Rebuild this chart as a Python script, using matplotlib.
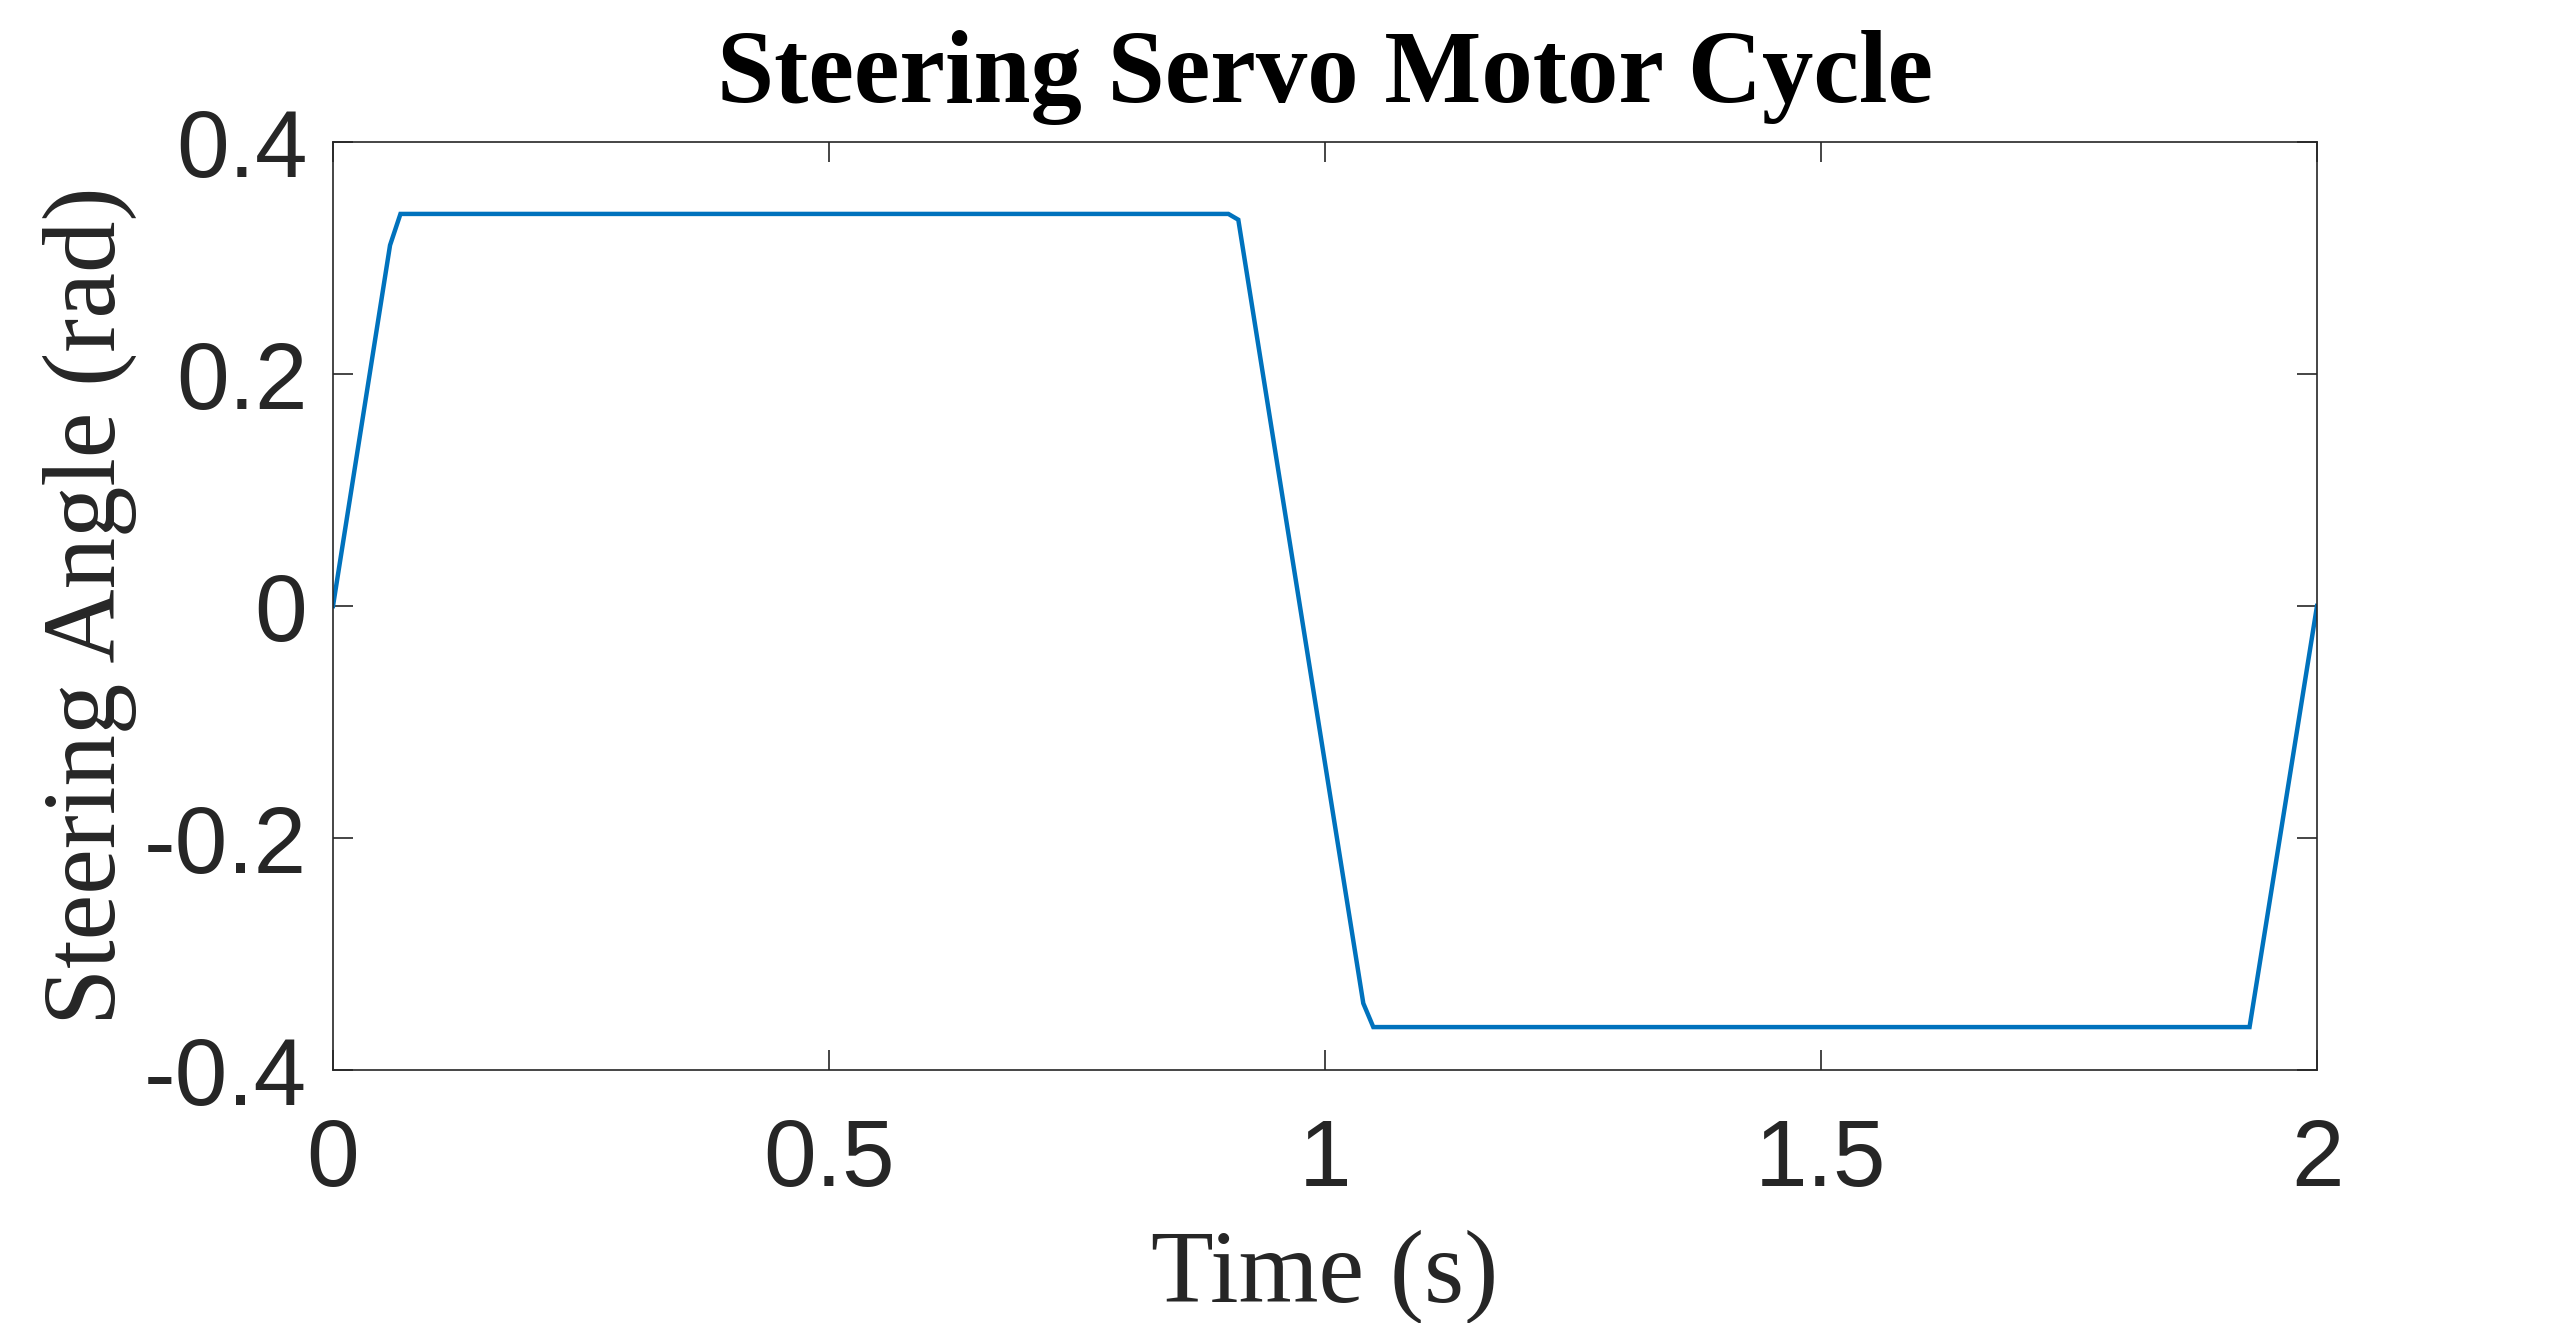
import matplotlib
matplotlib.use("Agg")
import matplotlib.pyplot as plt

# Data
time_s = [0.0, 0.0575, 0.068, 0.9026, 0.9126, 1.0386, 1.0487, 1.932, 2.0]
angle_rad = [0.0, 0.311, 0.338, 0.338, 0.333, -0.3425, -0.363, -0.363, 0.0]
x_ticks = [0, 0.5, 1, 1.5, 2]
x_tick_labels = ["0", "0.5", "1", "1.5", "2"]
y_ticks = [-0.4, -0.2, 0, 0.2, 0.4]
y_tick_labels = ["-0.4", "-0.2", "0", "0.2", "0.4"]

dark = "#262626"
fig = plt.figure(figsize=(25.6, 13.23), dpi=100)
ax = fig.add_axes([333 / 2560, (1323 - 1070) / 1323, 1984 / 2560, 928 / 1323])

ax.plot(time_s, angle_rad, color="#0072BD", linewidth=3.2, solid_joinstyle="miter")

ax.set_xlim(0, 2)
ax.set_ylim(-0.4, 0.4)
ax.set_xticks(x_ticks)
ax.set_xticklabels(x_tick_labels)
ax.set_yticks(y_ticks)
ax.set_yticklabels(y_tick_labels)

for sp in ax.spines.values():
    sp.set_color(dark)
    sp.set_linewidth(1.2)

ax.tick_params(axis="both", which="both", direction="in", length=14.4, width=1.2,
               color=dark, labelcolor=dark, top=True, right=True,
               labelsize=68)
ax.tick_params(axis="x", pad=34)
ax.tick_params(axis="y", pad=18.5)
for lab in ax.get_xticklabels() + ax.get_yticklabels():
    lab.set_family(["Liberation Sans", "DejaVu Sans"])

ax.set_xlabel("Time (s)", family=["Liberation Serif", "DejaVu Serif"], fontsize=74,
              color=dark, va="baseline")
ax.xaxis.set_label_coords(0.5, (1070 - 1302) / 928)
ax.set_ylabel("Steering Angle (rad)", family=["Liberation Serif", "DejaVu Serif"],
              fontsize=74, color=dark, va="baseline")
ax.yaxis.set_label_coords((115 - 333) / 1984, 0.5)

ax.set_title("Steering Servo Motor Cycle", family=["Liberation Serif", "DejaVu Serif"],
             fontweight="bold", fontsize=74, color="black", va="baseline",
             y=1 + (142 - 102) / 928, pad=0)

fig.savefig("out.png", dpi=100, facecolor="white")
